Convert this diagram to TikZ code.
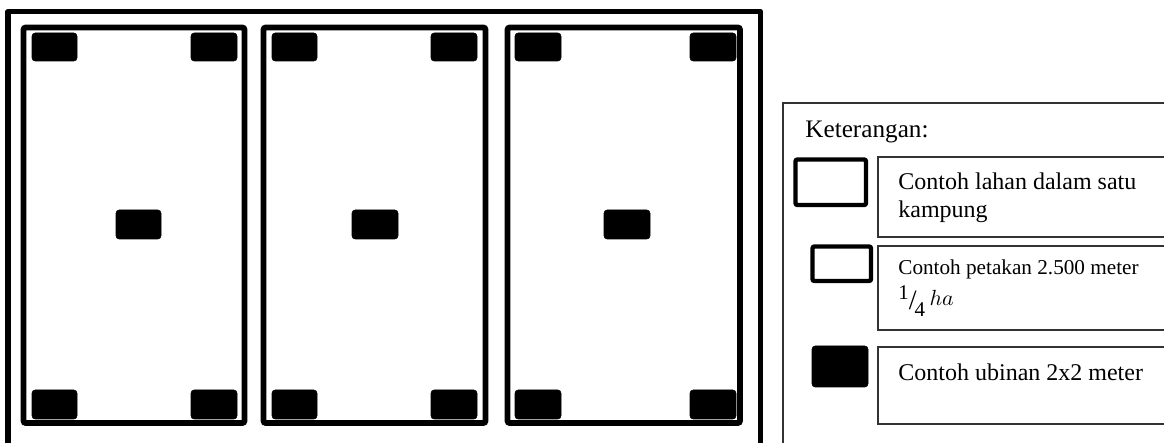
\documentclass[tikz,border=0pt]{standalone}
\usepackage{fontspec}
\setmainfont{Liberation Serif}
\begin{document}
\begin{tikzpicture}[x=0.5pt,y=-0.5pt,
  outerline/.style={line width=2.6pt},
  panel/.style={line width=2.8pt,rounded corners=1pt},
  tile/.style={fill=black,draw=black,line width=0.3pt,rounded corners=1.6pt},
  thin/.style={line width=0.6pt,draw=black!80},
  legsym/.style={line width=2.2pt,rounded corners=1pt},
  lbl/.style={anchor=base west,inner sep=0pt}]
\useasboundingbox (0,0) rectangle (1164,443);
\clip (0,0) rectangle (1164,443);
% outer field (open at the bottom)
\draw[outerline,line join=round] (8,460) -- (8,11.5) -- (760.5,11.5) -- (760.5,460);
% three plots
\draw[panel] (23.5,27.5) rectangle (244.5,423);
\draw[panel] (263.5,27.5) rectangle (485.5,423);
\draw[panel] (507.5,27.5) rectangle (740,423);
% tiles panel 1
\foreach \a/\b in {32/77,191/237}{
  \draw[tile] (\a,33) rectangle (\b,61);
  \draw[tile] (\a,390) rectangle (\b,419);}
\draw[tile] (116,210) rectangle (161,239);
% tiles panel 2
\foreach \a/\b in {272/317,431/477}{
  \draw[tile] (\a,33) rectangle (\b,61);
  \draw[tile] (\a,390) rectangle (\b,419);}
\draw[tile] (352,210) rectangle (398,239);
% tiles panel 3
\foreach \a/\b in {515/561,690/736}{
  \draw[tile] (\a,33) rectangle (\b,61);
  \draw[tile] (\a,390) rectangle (\b,419);}
\draw[tile] (604,210) rectangle (650,239);
% legend frame
\draw[thin] (1170,103) -- (783,103) -- (783,460);
\node[lbl,font=\fontsize{12.6}{15}\selectfont] (ket) at (805,138) {Keterangan:};
% legend entry boxes
\draw[thin] (1170,157) -- (878,157) -- (878,237) -- (1170,237);
\draw[thin] (1170,246) -- (878,246) -- (878,330) -- (1170,330);
\draw[thin] (1170,347) -- (878,347) -- (878,424) -- (1170,424);
% legend symbols
\draw[legsym] (795.5,159.5) rectangle (866,205);
\draw[legsym] (812.5,246.5) rectangle (871,281);
\draw[tile] (812,346) rectangle (868,387);
% legend texts
\node[lbl,font=\fontsize{12}{14}\selectfont] (t1) at (898,190) {Contoh lahan dalam satu};
\node[lbl,font=\fontsize{12}{14}\selectfont] (t1b) at (898,218) {kampung};
\node[lbl,font=\fontsize{10.6}{13}\selectfont] (t2) at (898,275) {Contoh petakan 2.500 meter};
\node[lbl] (t2b) at (898,306) {\raisebox{3pt}{\fontsize{10.5}{12}\selectfont 1}\kern0pt\raisebox{-1.6pt}{\fontsize{14}{15}\selectfont /}\kern-1pt\raisebox{-5.5pt}{\fontsize{10.5}{12}\selectfont 4}\kern2.2pt{\fontsize{11}{13}\selectfont $ha$}};
\node[lbl,font=\fontsize{12}{14}\selectfont] (t3) at (898,381) {Contoh ubinan 2x2 meter};
\end{tikzpicture}
\end{document}
